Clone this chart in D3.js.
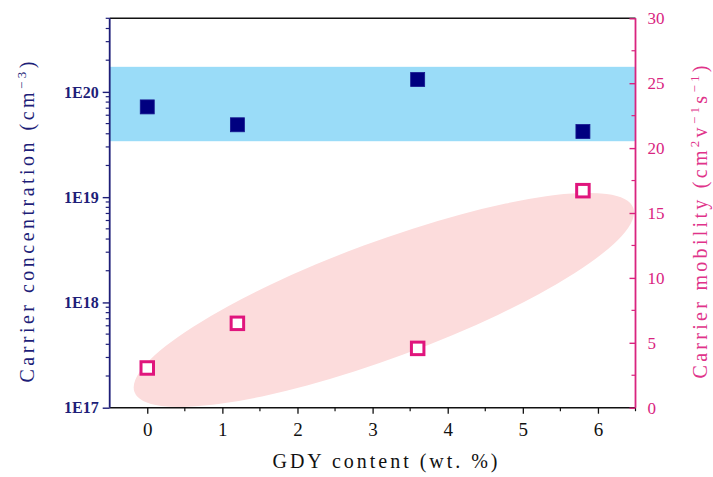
<!DOCTYPE html>
<html>
<head>
<meta charset="utf-8">
<script src="https://cdn.jsdelivr.net/npm/d3@7/dist/d3.min.js"></script>
<style>
  html, body { margin: 0; padding: 0; background: #ffffff; }
  svg { display: block; }
</style>
</head>
<body>
<svg id="chart" width="713" height="477"></svg>
<script>
// ---- data ----
const gdyContent = [0, 1.2, 3.6, 5.8];                 // wt. %
const carrierConc = [7.2e19, 4.87e19, 1.31e20, 4.2e19]; // cm^-3
const carrierMob = [3.06, 6.5, 4.57, 16.72];            // cm2 V-1 s-1
const xTickValues = [0, 1, 2, 3, 4, 5, 6];
const concTickValues = [1e17, 1e18, 1e19, 1e20];
const concTickLabels = ["1E17", "1E18", "1E19", "1E20"];
const mobTickValues = [0, 5, 10, 15, 20, 25, 30];
const concBand = [3.4e19, 1.73e20];
const mobEllipseX = [-0.17, 6.47];
const mobEllipseY = [1.2, 15.4];

// ---- layout ----
const W = 713, H = 477;
const L = 109.7, R = 635.5, T = 18.3, B = 407.7;
const serif = "'Liberation Serif', 'DejaVu Serif', serif";
const navy = "#1e1e78";
const magenta = "#d9247f";

const svg = d3.select("#chart");

const x = d3.scaleLinear().domain([-0.5, 6.5]).range([L, R]);
const yC = d3.scaleLog().domain([1e17, 5e20]).range([B, T]);
const yM = d3.scaleLinear().domain([0, 30]).range([B, T]);

// blue band
svg.append("rect")
  .attr("x", L).attr("width", R - L)
  .attr("y", yC(concBand[1])).attr("height", yC(concBand[0]) - yC(concBand[1]))
  .attr("fill", "#9adcf8");

// pink ellipse
{
  const x1 = x(mobEllipseX[0]), y1 = yM(mobEllipseY[0]);
  const x2 = x(mobEllipseX[1]), y2 = yM(mobEllipseY[1]);
  const cx = (x1 + x2) / 2, cy = (y1 + y2) / 2;
  const a = Math.hypot(x2 - x1, y2 - y1) / 2;
  const ang = Math.atan2(y2 - y1, x2 - x1) * 180 / Math.PI;
  svg.append("ellipse")
    .attr("cx", 0).attr("cy", 0).attr("rx", a).attr("ry", 58)
    .attr("transform", `translate(${cx},${cy}) rotate(${ang})`)
    .attr("fill", "#fcdcdc");
}

// carrier concentration squares
const sq = 14;
svg.append("g").selectAll("rect")
  .data(gdyContent.map((d, i) => [d, carrierConc[i]]))
  .join("rect")
  .attr("x", d => x(d[0]) - sq / 2).attr("y", d => yC(d[1]) - sq / 2)
  .attr("width", sq).attr("height", sq)
  .attr("fill", "#000080").attr("stroke", "#17178f").attr("stroke-width", 0.8);

// mobility squares
const ps = 12.5;
svg.append("g").selectAll("rect")
  .data(gdyContent.map((d, i) => [d, carrierMob[i]]))
  .join("rect")
  .attr("x", d => x(d[0]) - ps / 2).attr("y", d => yM(d[1]) - ps / 2)
  .attr("width", ps).attr("height", ps)
  .attr("fill", "#ffffff").attr("stroke", "#e0157d").attr("stroke-width", 3);

// ---- axes ----
// top line
svg.append("line").attr("x1", L).attr("x2", R).attr("y1", T).attr("y2", T)
  .attr("stroke", "#111").attr("stroke-width", 1.5);

// bottom axis
const xAxis = d3.axisBottom(x).tickValues(xTickValues).tickSize(6).tickPadding(9)
  .tickFormat(d3.format("d"));
const gx = svg.append("g").attr("transform", `translate(0,${B})`).call(xAxis);
gx.select(".domain").attr("stroke", "#111").attr("stroke-width", 1.5).attr("d", `M${L},0H${R}`);
gx.selectAll(".tick line").attr("stroke", "#111").attr("stroke-width", 1.3);
gx.selectAll(".tick text").attr("font-family", serif).attr("font-size", 19).attr("fill", "#111");
const xMinor = d3.range(-0.5, 6.6, 1).filter(v => v > -0.5);
gx.append("g").selectAll("line").data(xMinor).join("line")
  .attr("x1", d => x(d)).attr("x2", d => x(d)).attr("y1", 0).attr("y2", 3.5)
  .attr("stroke", "#111").attr("stroke-width", 1.2);

// left axis (log)
const yAxisL = d3.axisLeft(yC).tickValues(concTickValues).tickSize(7).tickPadding(4)
  .tickFormat((d, i) => concTickLabels[i]);
const gl = svg.append("g").attr("transform", `translate(${L},0)`).call(yAxisL);
gl.select(".domain").attr("stroke", navy).attr("stroke-width", 1.8).attr("d", `M0,${B}V${T}`);
gl.selectAll(".tick line").attr("stroke", navy).attr("stroke-width", 1.4);
gl.selectAll(".tick text").attr("font-family", serif).attr("font-size", 16)
  .attr("font-weight", "bold").attr("fill", navy);
const concMinor = [];
[1e17, 1e18, 1e19, 1e20].forEach(dec => {
  for (let k = 2; k <= 9; k++) { const v = dec * k; if (v <= 5e20) concMinor.push(v); }
});
gl.append("g").selectAll("line").data(concMinor).join("line")
  .attr("x1", 0).attr("x2", -4).attr("y1", d => yC(d)).attr("y2", d => yC(d))
  .attr("stroke", navy).attr("stroke-width", 1.2);

// right axis
const yAxisR = d3.axisRight(yM).tickValues(mobTickValues).tickSize(-6).tickPadding(12)
  .tickFormat(d3.format("d"));
const gr = svg.append("g").attr("transform", `translate(${R},0)`).call(yAxisR);
gr.select(".domain").attr("stroke", magenta).attr("stroke-width", 1.8).attr("d", `M0,${B}V${T}`);
gr.selectAll(".tick line").attr("stroke", magenta).attr("stroke-width", 1.4);
gr.selectAll(".tick text").attr("font-family", serif).attr("font-size", 17).attr("fill", magenta);
const mobMinor = d3.range(2.5, 30, 5);
gr.append("g").selectAll("line").data(mobMinor).join("line")
  .attr("x1", 0).attr("x2", -4).attr("y1", d => yM(d)).attr("y2", d => yM(d))
  .attr("stroke", magenta).attr("stroke-width", 1.2);

// ---- titles ----
svg.append("text")
  .attr("x", 385).attr("y", 468).attr("text-anchor", "middle")
  .attr("font-family", serif).attr("font-size", 20).attr("fill", "#111")
  .attr("textLength", 225).attr("lengthAdjust", "spacing")
  .text("GDY content (wt. %)");

const lt = svg.append("text")
  .attr("transform", `translate(34,222) rotate(-90)`)
  .attr("text-anchor", "middle")
  .attr("font-family", serif).attr("font-size", 20).attr("fill", navy)
  .attr("textLength", 321).attr("lengthAdjust", "spacing");
lt.append("tspan").text("Carrier concentration (cm");
lt.append("tspan").attr("font-size", 13).attr("dy", -8).text("−3");
lt.append("tspan").attr("dy", 8).text(")");

const rt = svg.append("text")
  .attr("transform", `translate(707,222) rotate(-90)`)
  .attr("text-anchor", "middle")
  .attr("font-family", serif).attr("font-size", 20).attr("fill", "#e0338a")
  .attr("textLength", 313).attr("lengthAdjust", "spacing");
rt.append("tspan").text("Carrier mobility (cm");
rt.append("tspan").attr("font-size", 13).attr("dy", -8).text("2");
rt.append("tspan").attr("dy", 8).text("v");
rt.append("tspan").attr("font-size", 13).attr("dy", -8).text("−1");
rt.append("tspan").attr("dy", 8).text("s");
rt.append("tspan").attr("font-size", 13).attr("dy", -8).text("−1");
rt.append("tspan").attr("dy", 8).text(")");
</script>
</body>
</html>
